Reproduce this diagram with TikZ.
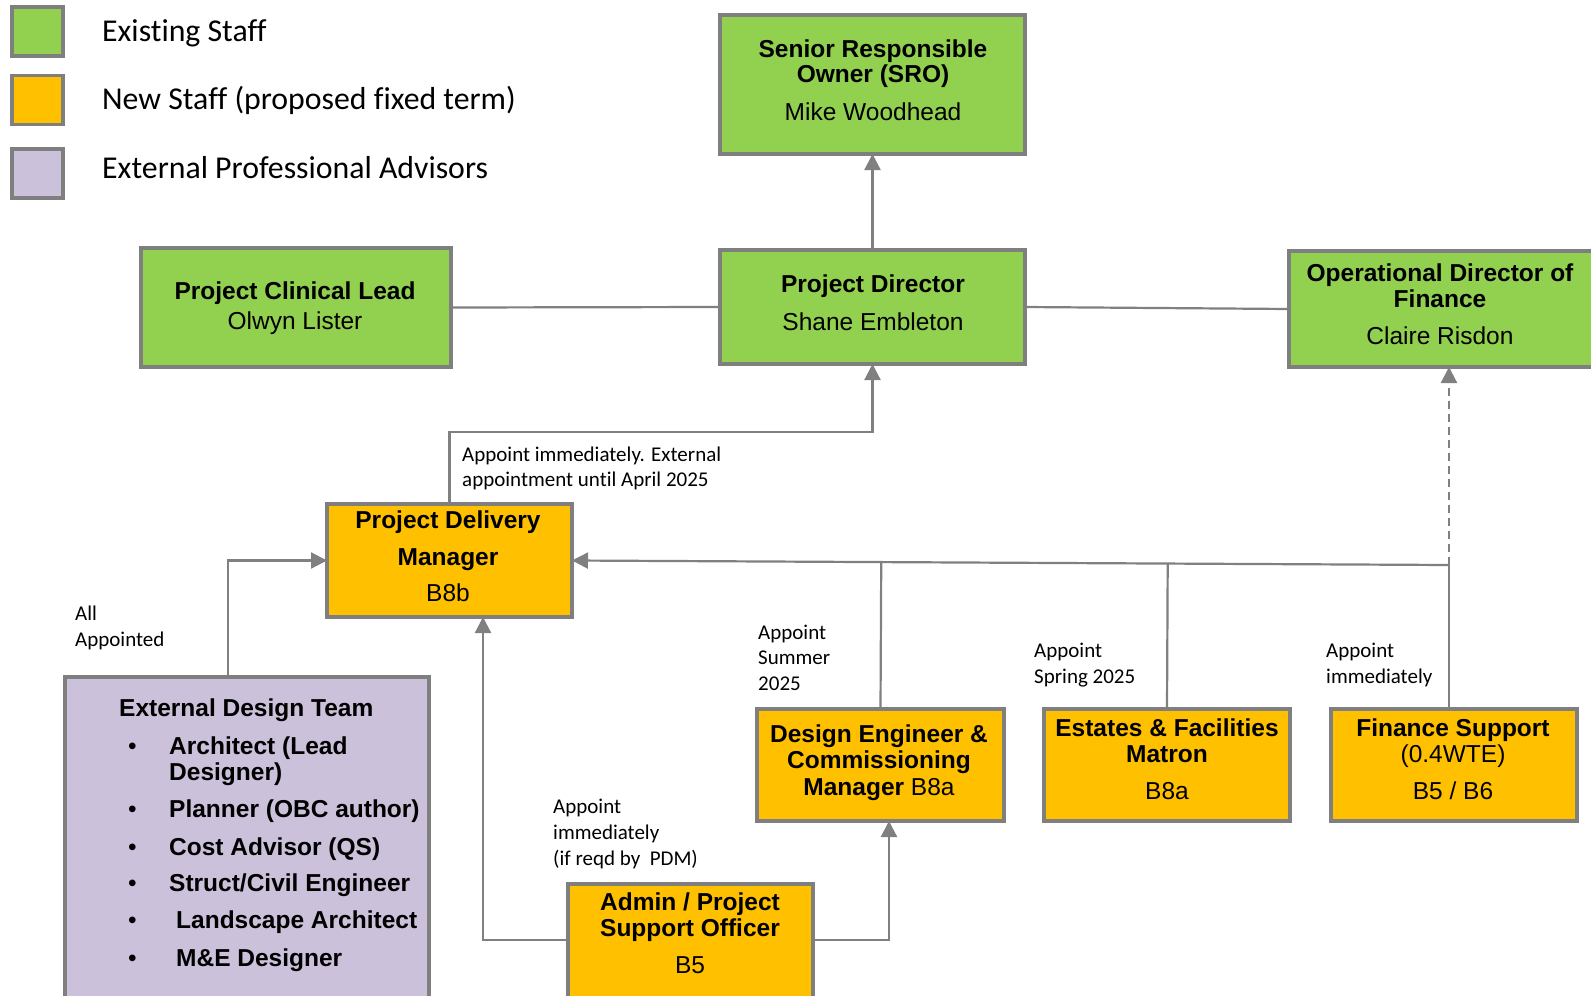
\documentclass[tikz,border=0pt]{standalone}
\usepackage{fontspec}
\setmainfont{Liberation Sans}
\newfontfamily\calfont[Ligatures=NoCommon]{Carlito}
\usetikzlibrary{arrows.meta,calc}
\definecolor{exgreen}{HTML}{92D050}
\definecolor{neworange}{HTML}{FFC000}
\definecolor{extpurple}{HTML}{CCC1DA}
\definecolor{bordgray}{HTML}{7F7F7F}
\definecolor{linegray}{HTML}{808080}
\begin{document}
\begin{tikzpicture}[x=1pt,y=-1pt,
  box/.style={draw=bordgray,line width=3.8pt,inner sep=0pt,outer sep=0pt,rectangle},
  gbox/.style={box,fill=exgreen},
  obox/.style={box,fill=neworange},
  pbox/.style={box,fill=extpurple},
  bt/.style={font=\fontsize{24.5}{29}\selectfont\bfseries,anchor=base,inner sep=0pt},
  rt/.style={font=\fontsize{24.5}{29}\selectfont,anchor=base,inner sep=0pt},
  lt/.style={font=\fontsize{24.5}{29}\selectfont\bfseries,anchor=base west,inner sep=0pt},
  bul/.style={font=\fontsize{24.5}{29}\selectfont,anchor=base,inner sep=0pt},
  st/.style={font=\calfont\fontsize{21}{25}\selectfont,anchor=base west,inner sep=0pt},
  lg/.style={font=\calfont\fontsize{31.8}{36}\selectfont,anchor=base west,inner sep=0pt},
  conn/.style={draw=linegray,line width=2.2pt},
  arr/.style={conn,-{Triangle[length=16pt,width=16pt]}},
  dsh/.style={dash pattern=on 8pt off 5pt}
]
\useasboundingbox (0,0) rectangle (1591,996);
\clip (0,0) rectangle (1591,996);
\fill[white] (0,0) rectangle (1591,996);

% legend
\node[gbox,minimum width=51pt,minimum height=49pt] (lg1) at (37.5,31.5) {};
\node[obox,minimum width=51pt,minimum height=49pt] (lg2) at (37.5,100) {};
\node[pbox,minimum width=51pt,minimum height=49pt] (lg3) at (37.5,173.5) {};
\node[lg] (lgt1) at (102,41.5) {Existing Staff};
\node[lg] (lgt2) at (102,109) {New Staff (proposed fixed term)};
\node[lg] (lgt3) at (102,178) {External Professional Advisors};

% boxes
\node[gbox,minimum width=305pt,minimum height=139pt] (sro) at (872.5,84.5) {};
\node[gbox,minimum width=305pt,minimum height=114pt] (pd) at (872.5,307) {};
\node[gbox,minimum width=310pt,minimum height=119pt] (pcl) at (296,307.5) {};
\node[gbox,minimum width=311pt,minimum height=116pt] (odf) at (1444.5,309) {};
\node[obox,minimum width=245pt,minimum height=113pt] (pdm) at (449.5,560.5) {};
\node[pbox,minimum width=364pt,minimum height=333pt] (edt) at (247,843.5) {};
\node[obox,minimum width=247pt,minimum height=112pt] (decm) at (880.5,765) {};
\node[obox,minimum width=246pt,minimum height=112pt] (efm) at (1167,765) {};
\node[obox,minimum width=246pt,minimum height=112pt] (fs) at (1454,765) {};
\node[obox,minimum width=245pt,minimum height=126pt] (apso) at (690.5,947) {};

% box texts
\node[bt] (sro1) at (873,57) {Senior Responsible};
\node[bt] (sro2) at (873,82.5) {Owner (SRO)};
\node[rt] (sro3) at (873,120.5) {Mike Woodhead};

\node[bt] (pd1) at (873,292.5) {Project Director};
\node[rt] (pd2) at (873,330.5) {Shane Embleton};

\node[bt] (pcl1) at (295,299.5) {Project Clinical Lead};
\node[rt] (pcl2) at (295,329.5) {Olwyn Lister};

\node[bt] (odf1) at (1440,281.5) {Operational Director of};
\node[bt] (odf2) at (1440,307.5) {Finance};
\node[rt] (odf3) at (1440,344.5) {Claire Risdon};

\node[bt] (pdm1) at (448,528) {Project Delivery};
\node[bt] (pdm2) at (448,565) {Manager};
\node[rt] (pdm3) at (448,601) {B8b};

\node[bt] (decm1) at (879,742) {Design Engineer \&};
\node[bt] (decm2) at (879,768) {Commissioning};
\node[rt] (decm3) at (879,795) {\textbf{Manager} B8a};

\node[bt] (efm1) at (1167,736.5) {Estates \& Facilities};
\node[bt] (efm2) at (1167,762.5) {Matron};
\node[rt] (efm3) at (1167,799.5) {B8a};

\node[bt] (fs1) at (1453,736.5) {Finance Support};
\node[rt] (fs2) at (1453,762.5) {(0.4WTE)};
\node[rt] (fs3) at (1453,799.5) {B5 / B6};

\node[bt] (ap1) at (690,910) {Admin / Project};
\node[bt] (ap2) at (690,936.5) {Support Officer};
\node[rt] (ap3) at (690,973.5) {B5};

\node[lt] (edt0) at (119,716.5) {External Design Team};
\node[bul] (b1) at (132.5,754) {•};
\node[lt] (e1a) at (169,754) {Architect (Lead};
\node[lt] (e1b) at (169,780) {Designer)};
\node[bul] (b2) at (132.5,817) {•};
\node[lt] (e2) at (169,817) {Planner (OBC author)};
\node[bul] (b3) at (132.5,855) {•};
\node[lt] (e3) at (169,855) {Cost Advisor (QS)};
\node[bul] (b4) at (132.5,891.5) {•};
\node[lt] (e4) at (169,891.5) {Struct/Civil Engineer};
\node[bul] (b5) at (132.5,928.5) {•};
\node[lt] (e5) at (176,928.5) {Landscape Architect};
\node[bul] (b6) at (132.5,966) {•};
\node[lt] (e6) at (176,966) {M\&E Designer};

% small labels
\node[st] (l1a) at (462,461) {Appoint immediately. External};
\node[st] (l1b) at (462,486) {appointment until April 2025};
\node[st] (l2a) at (75,620.5) {All};
\node[st] (l2b) at (75,646) {Appointed};
\node[st] (l3a) at (758,639) {Appoint};
\node[st] (l3b) at (758,664.5) {Summer};
\node[st] (l3c) at (758,690) {2025};
\node[st] (l4a) at (1034,657.5) {Appoint};
\node[st] (l4b) at (1034,683) {Spring 2025};
\node[st] (l5a) at (1326,657.5) {Appoint};
\node[st] (l5b) at (1326,683) {immediately};
\node[st] (l6a) at (553,813.5) {Appoint};
\node[st] (l6b) at (553,839.5) {immediately};
\node[st] (l6c) at (553,865) {(if reqd by\ \ PDM)};

% connectors
\coordinate (bus) at (1449,565);
\coordinate (edtx) at (228,560);
\coordinate (apl) at (483,940);
\coordinate (apr) at (889,940);

\draw[arr] (pd.north) -- (sro.south);
\draw[conn] (pcl.east) -- (pd.west);
\draw[conn] (pd.east) -- (odf.west);
\draw[arr] (pdm.north) |- ($(pd.south)+(0,68)$) -- (pd.south);
\draw[arr] (bus) -- (pdm.east);
\draw[conn] (bus |- fs.north) -- (bus);
\draw[conn] (decm.north) -- ($(pdm.east)!(decm.north)!(bus)$);
\draw[conn] (efm.north) -- ($(pdm.east)!(efm.north)!(bus)$);
\draw[arr,dsh] (bus) -- (bus |- odf.south);
\draw[arr] (edtx |- edt.north) |- (pdm.west);
\draw[arr] (apso.west |- apl) -| (pdm.south -| apl);
\draw[arr] (apso.east |- apr) -| (decm.south -| apr);
\end{tikzpicture}
\end{document}
